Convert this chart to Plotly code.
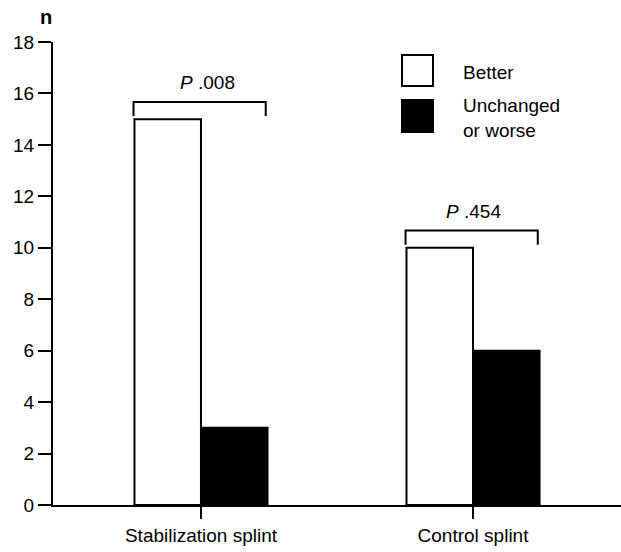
import plotly.graph_objects as go

categories = ["Stabilization splint", "Control splint"]
better = [15, 10]
unchanged = [3, 6]
p_labels = ["<i>P</i> .008", "<i>P</i> .454"]
y_ticks = [0, 2, 4, 6, 8, 10, 12, 14, 16, 18]

FONT = "Liberation Sans, Arial, sans-serif"
FS = 19
xpos = [0, 1]
p_xshift = [7, 0]

fig = go.Figure()
fig.add_trace(go.Bar(x=xpos, y=better, name="Better",
                     marker=dict(color="white", line=dict(color="black", width=2)),
                     showlegend=False))
fig.add_trace(go.Bar(x=xpos, y=unchanged, name="Unchanged or worse",
                     marker=dict(color="black", line=dict(color="black", width=2)),
                     showlegend=False))

bar_w = 0.243
# significance brackets
for i, (b, u) in enumerate(zip(better, unchanged)):
    top = max(b, u) + 0.67
    low = max(b, u) + 0.12
    x0 = xpos[i] - bar_w - 0.005
    x1 = xpos[i] + bar_w - 0.005
    fig.add_trace(go.Scatter(x=[x0, x0, x1, x1], y=[low, top, top, low],
                             mode="lines", line=dict(color="black", width=2),
                             showlegend=False, hoverinfo="skip", cliponaxis=False))
    fig.add_annotation(x=xpos[i], y=top, yshift=19, xshift=p_xshift[i], text=p_labels[i],
                       showarrow=False, font=dict(family=FONT, size=FS, color="black"))

# manual legend
fig.add_shape(type="rect", xref="paper", yref="paper",
              x0=(402 - 53) / 568, x1=(433 - 53) / 568,
              y0=(505 - 86) / 463, y1=(505 - 55) / 463,
              line=dict(color="black", width=2), fillcolor="white")
fig.add_shape(type="rect", xref="paper", yref="paper",
              x0=(402 - 53) / 568, x1=(433 - 53) / 568,
              y0=(505 - 132) / 463, y1=(505 - 100) / 463,
              line=dict(color="black", width=2), fillcolor="black")
fig.add_annotation(xref="paper", yref="paper", x=(461 - 53) / 568, y=(505 - 72) / 463,
                   xanchor="left", yanchor="middle", text="Better", showarrow=False,
                   font=dict(family=FONT, size=FS, color="black"))
fig.add_annotation(xref="paper", yref="paper", x=(461 - 53) / 568, y=(505 - 118) / 463,
                   xanchor="left", yanchor="middle", text="Unchanged<br>or worse",
                   showarrow=False, align="left",
                   font=dict(family=FONT, size=FS, color="black"))
# axis title "n"
fig.add_annotation(xref="paper", yref="paper", x=(46 - 53) / 568, y=(505 - 17) / 463,
                   xanchor="center", yanchor="middle", text="<b>n</b>", showarrow=False,
                   font=dict(family=FONT, size=FS + 1, color="black"))

fig.update_layout(
    width=621, height=552,
    margin=dict(l=53, r=0, t=42, b=47),
    plot_bgcolor="white", paper_bgcolor="white",
    barmode="group", bargap=0.511, bargroupgap=0,
    font=dict(family=FONT, size=FS, color="black"),
)
fig.update_xaxes(range=[-0.544, 1.544], tickvals=xpos, ticktext=categories,
                 showline=True, linecolor="black", linewidth=2,
                 ticks="outside", ticklen=12, tickwidth=2, tickcolor="black",
                 showgrid=False, zeroline=False, fixedrange=True,
                 tickfont=dict(family=FONT, size=FS))
fig.update_yaxes(range=[0, 18], tickvals=y_ticks,
                 showline=True, linecolor="black", linewidth=2,
                 ticks="outside", ticklen=13, tickwidth=2, tickcolor="black",
                 showgrid=False, zeroline=False,
                 tickfont=dict(family=FONT, size=FS))

fig.write_html("out.html", config={"displayModeBar": False},
               post_script="document.body.style.margin='0';document.body.style.padding='0';")
